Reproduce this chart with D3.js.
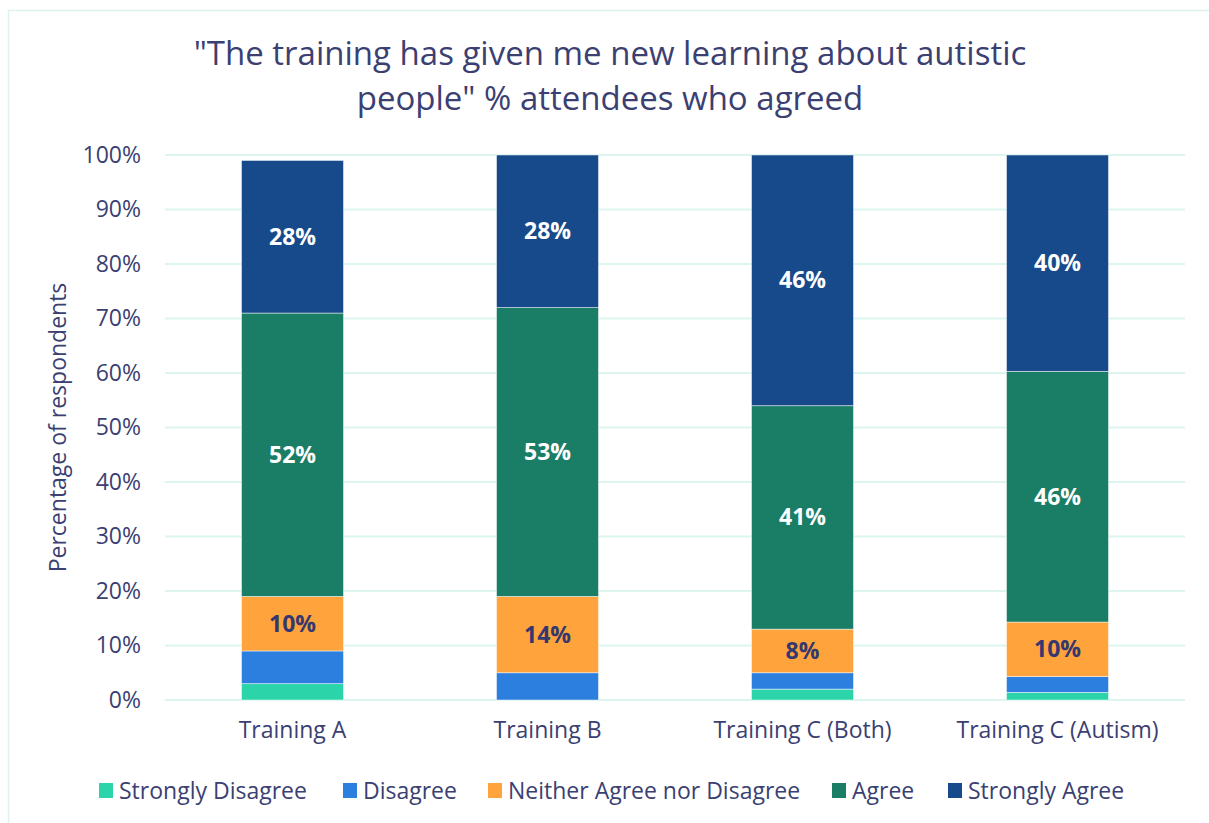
<!DOCTYPE html>
<html>
<head>
  <script src="https://cdn.jsdelivr.net/npm/d3@7"></script>
  <style>
    body { margin: 0; background: #fff; }
    svg { display: block; font-family: "Open Sans", sans-serif; }
  </style>
</head>
<body>
<script>
  // Data
  const categories = ["Training A", "Training B", "Training C (Both)", "Training C (Autism)"];
  const seriesNames = ["Strongly Disagree", "Disagree", "Neither Agree nor Disagree", "Agree", "Strongly Agree"];
  const stronglyDisagree = [3, 0, 2, 1.4];
  const disagree = [6, 5, 3, 2.9];
  const neither = [10, 14, 8, 10];
  const agree = [52, 53, 41, 46];
  const stronglyAgree = [28, 28, 46, 39.7];
  const yTicks = [0, 10, 20, 30, 40, 50, 60, 70, 80, 90, 100];

  const colors = ["#2BD4A9", "#2C7EDF", "#FFA33C", "#1A7D66", "#174A8B"];
  const labelColors = [null, null, "#35386F", "#ffffff", "#ffffff"];
  const textColor = "#3B3F72";
  const font = "'Open Sans', sans-serif";

  const W = 1209, H = 823;
  const margin = { left: 165, right: 24, top: 155, bottom: 123 };

  const svg = d3.select("body").append("svg")
    .attr("width", W)
    .attr("height", H);

  // chart frame
  svg.append("rect")
    .attr("x", 8.5).attr("y", 10.5)
    .attr("width", W).attr("height", H)
    .attr("fill", "none")
    .attr("stroke", "#DDF3EE")
    .attr("stroke-width", 1.5);

  const table = categories.map(function (c, i) {
    return {
      category: c,
      "Strongly Disagree": stronglyDisagree[i],
      "Disagree": disagree[i],
      "Neither Agree nor Disagree": neither[i],
      "Agree": agree[i],
      "Strongly Agree": stronglyAgree[i]
    };
  });

  const stack = d3.stack().keys(seriesNames)(table);

  const x = d3.scaleBand()
    .domain(categories)
    .range([margin.left, W - margin.right])
    .paddingInner(0.6)
    .paddingOuter(0.3);

  const y = d3.scaleLinear()
    .domain([0, 100])
    .range([H - margin.bottom, margin.top]);

  // gridlines
  svg.append("g")
    .selectAll("line")
    .data(yTicks)
    .enter()
    .append("line")
    .attr("x1", margin.left)
    .attr("x2", W - margin.right)
    .attr("y1", function (d) { return y(d); })
    .attr("y2", function (d) { return y(d); })
    .attr("stroke", "#DDF5EF")
    .attr("stroke-width", 2);

  // y axis labels
  const yAxis = d3.axisLeft(y)
    .tickValues(yTicks)
    .tickFormat(function (d) { return d + "%"; })
    .tickSize(0)
    .tickPadding(0);
  const gy = svg.append("g")
    .attr("transform", "translate(" + (margin.left - 24) + ",0)")
    .call(yAxis)
    .attr("font-family", font);
  gy.select(".domain").remove();
  gy.selectAll("text")
    .attr("fill", textColor)
    .attr("font-size", "23px");

  // x axis labels
  const xAxis = d3.axisBottom(x).tickSize(0).tickPadding(0);
  const gx = svg.append("g")
    .attr("transform", "translate(0," + (H - margin.bottom + 22) + ")")
    .call(xAxis)
    .attr("font-family", font);
  gx.select(".domain").remove();
  gx.selectAll("text")
    .attr("fill", textColor)
    .attr("font-size", "23px");

  // bars
  const layers = svg.append("g")
    .selectAll("g")
    .data(stack)
    .enter()
    .append("g")
    .attr("fill", function (d, i) { return colors[i]; });

  layers.selectAll("rect")
    .data(function (d) { return d; })
    .enter()
    .append("rect")
    .attr("x", function (d) { return x(d.data.category); })
    .attr("y", function (d) { return y(d[1]); })
    .attr("width", x.bandwidth())
    .attr("height", function (d) { return y(d[0]) - y(d[1]); })
    .attr("stroke", "#ffffff")
    .attr("stroke-opacity", 0.6)
    .attr("stroke-width", 0.8);

  // data labels
  stack.forEach(function (s, si) {
    if (!labelColors[si]) return;
    svg.append("g")
      .selectAll("text")
      .data(s)
      .enter()
      .append("text")
      .attr("x", function (d) { return x(d.data.category) + x.bandwidth() / 2; })
      .attr("y", function (d) { return (y(d[0]) + y(d[1])) / 2; })
      .attr("dy", "0.35em")
      .attr("text-anchor", "middle")
      .attr("font-size", "23px")
      .attr("font-weight", "bold")
      .attr("fill", labelColors[si])
      .text(function (d) { return Math.round(d[1] - d[0]) + "%"; });
  });

  // y axis title
  svg.append("text")
    .attr("transform", "translate(66," + y(50) + ") rotate(-90)")
    .attr("text-anchor", "middle")
    .attr("font-size", "23px")
    .attr("fill", textColor)
    .text("Percentage of respondents");

  // title
  const title = svg.append("text")
    .attr("text-anchor", "middle")
    .attr("font-size", "33px")
    .attr("fill", textColor);
  title.append("tspan").attr("x", 610).attr("y", 65)
    .text("\"The training has given me new learning about autistic");
  title.append("tspan").attr("x", 610).attr("y", 110)
    .text("people\" % attendees who agreed");

  // legend
  const legendItems = [
    { name: seriesNames[0], x: 99 },
    { name: seriesNames[1], x: 343 },
    { name: seriesNames[2], x: 488 },
    { name: seriesNames[3], x: 832 },
    { name: seriesNames[4], x: 948 }
  ];
  const lg = svg.append("g")
    .selectAll("g")
    .data(legendItems)
    .enter()
    .append("g")
    .attr("transform", function (d) { return "translate(" + d.x + ",791)"; });
  lg.append("rect")
    .attr("x", 0).attr("y", -8)
    .attr("width", 14).attr("height", 15)
    .attr("fill", function (d, i) { return colors[i]; });
  lg.append("text")
    .attr("x", 20)
    .attr("dy", "0.35em")
    .attr("font-size", "23px")
    .attr("fill", textColor)
    .text(function (d) { return d.name; });
</script>
</body>
</html>
